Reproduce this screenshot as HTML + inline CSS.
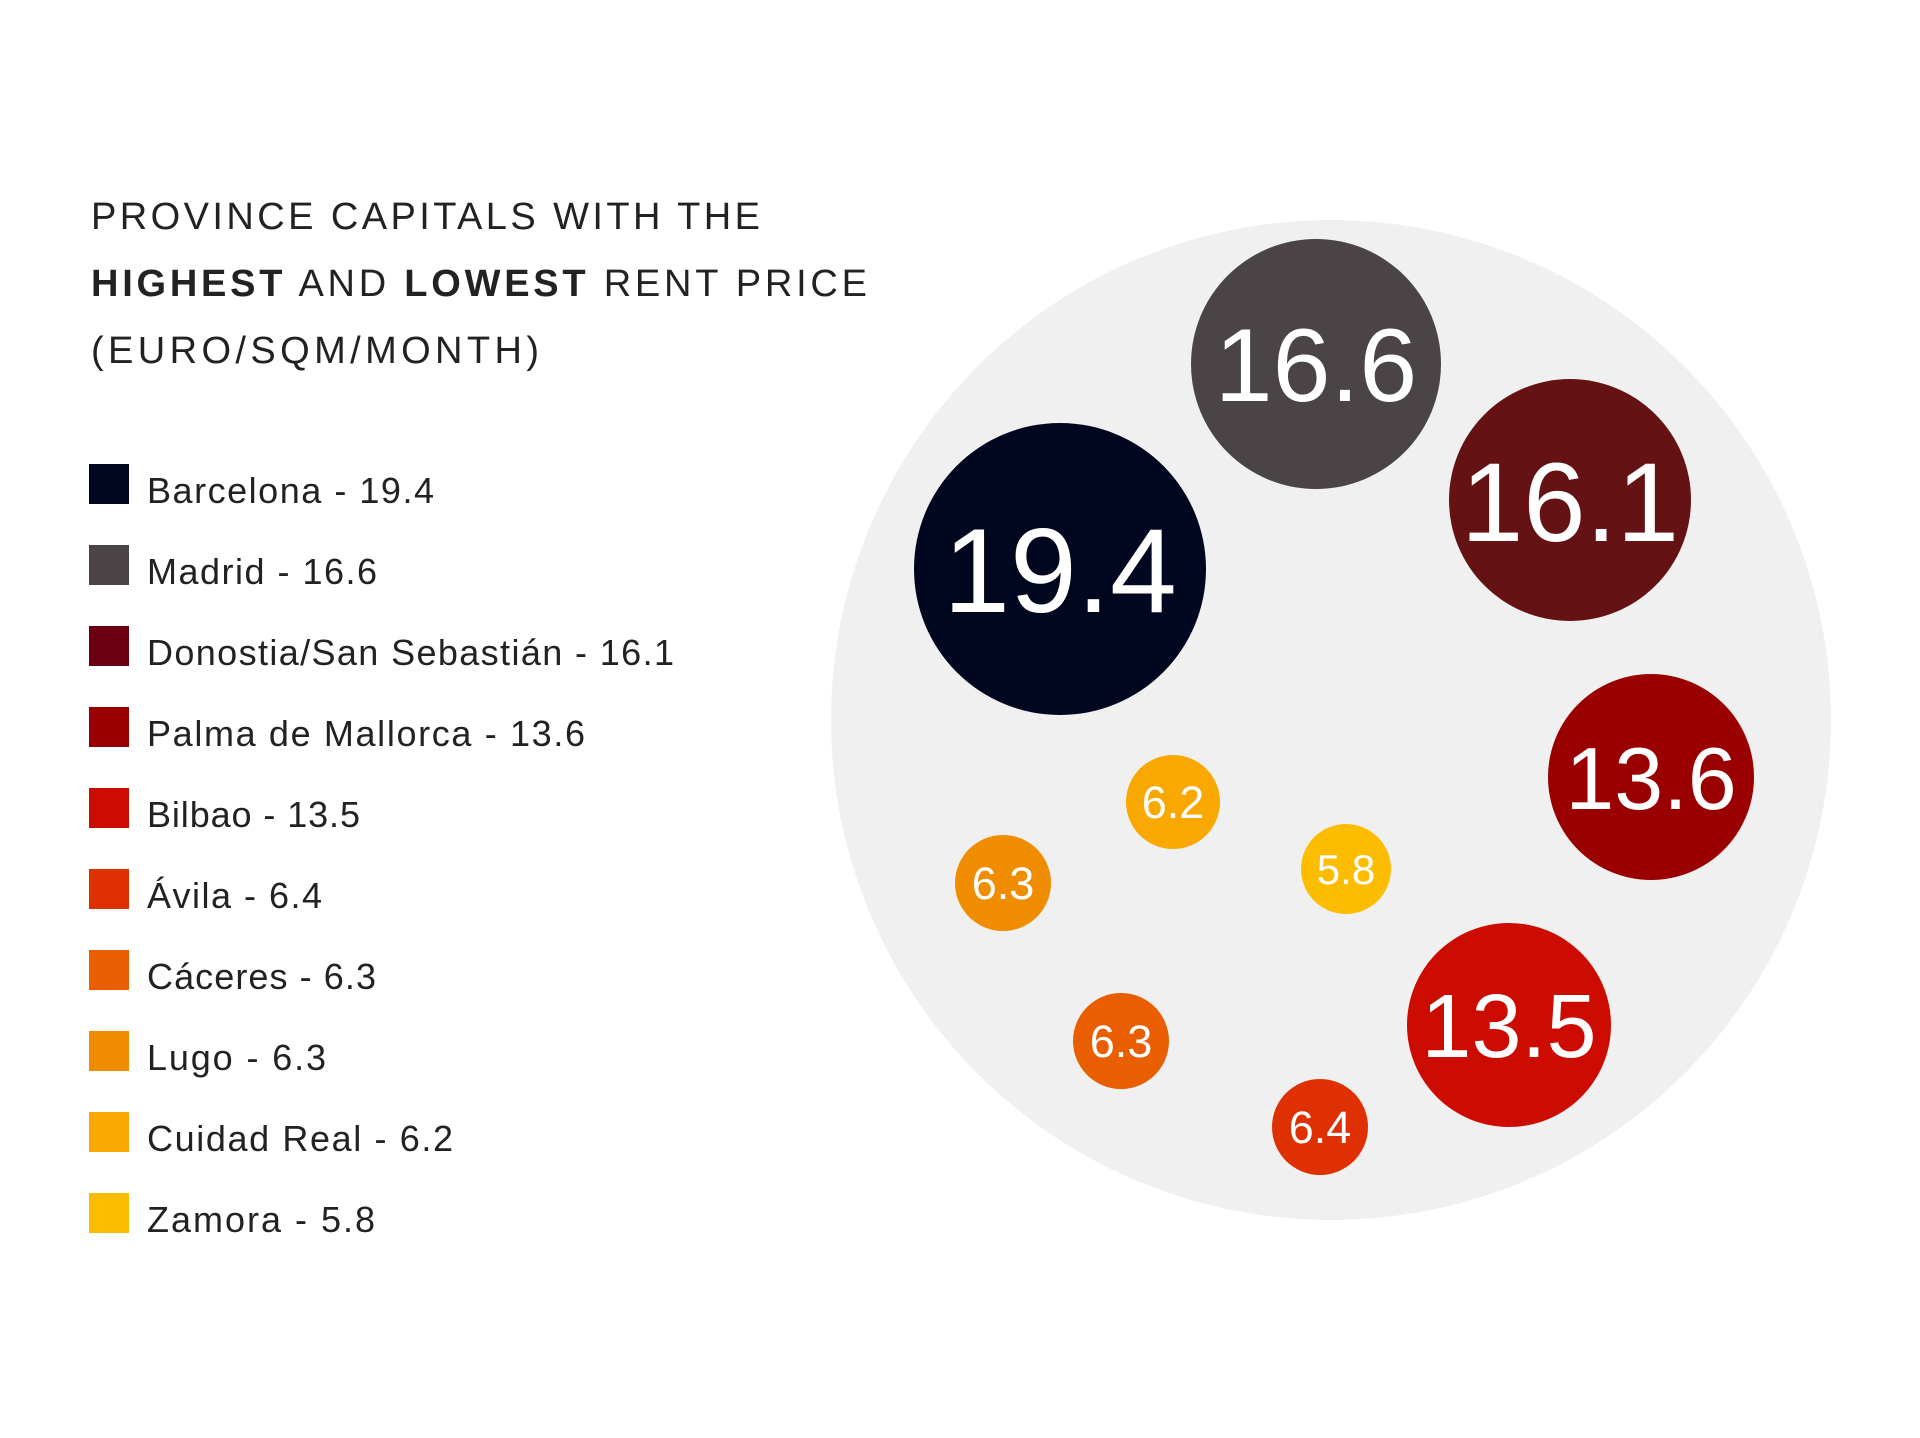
<!DOCTYPE html>
<html><head><meta charset="utf-8"><style>
html,body{margin:0;padding:0;background:#fff;}
svg{display:block;}
text{font-family:"Liberation Sans",sans-serif;}
</style></head><body>
<svg width="1920" height="1438" viewBox="0 0 1920 1438" xmlns="http://www.w3.org/2000/svg">
<rect width="1920" height="1438" fill="#fff"/>
<g fill="#222" font-size="38">
<text x="91" y="229" textLength="669" lengthAdjust="spacing">PROVINCE CAPITALS WITH THE</text>
<text x="91" y="296" textLength="776" lengthAdjust="spacing"><tspan font-weight="bold">HIGHEST</tspan> AND <tspan font-weight="bold">LOWEST</tspan> RENT PRICE</text>
<text x="91" y="363" textLength="448" lengthAdjust="spacing">(EURO/SQM/MONTH)</text>
</g>
<g font-size="36" fill="#222">
<rect x="89" y="464" width="40" height="40" fill="#00071f"/><text x="147" y="503" textLength="287" lengthAdjust="spacing">Barcelona - 19.4</text>
<rect x="89" y="545" width="40" height="40" fill="#4a4447"/><text x="147" y="584" textLength="230" lengthAdjust="spacing">Madrid - 16.6</text>
<rect x="89" y="626" width="40" height="40" fill="#6a0012"/><text x="147" y="665" textLength="527" lengthAdjust="spacing">Donostia/San Sebastián - 16.1</text>
<rect x="89" y="707" width="40" height="40" fill="#9a0000"/><text x="147" y="746" textLength="438" lengthAdjust="spacing">Palma de Mallorca - 13.6</text>
<rect x="89" y="788" width="40" height="40" fill="#cc0c00"/><text x="147" y="827" textLength="213" lengthAdjust="spacing">Bilbao - 13.5</text>
<rect x="89" y="869" width="40" height="40" fill="#de3000"/><text x="147" y="908" textLength="175" lengthAdjust="spacing">Ávila - 6.4</text>
<rect x="89" y="950" width="40" height="40" fill="#e85e00"/><text x="147" y="989" textLength="229" lengthAdjust="spacing">Cáceres - 6.3</text>
<rect x="89" y="1031" width="40" height="40" fill="#f08c00"/><text x="147" y="1070" textLength="179" lengthAdjust="spacing">Lugo - 6.3</text>
<rect x="89" y="1112" width="40" height="40" fill="#f8a800"/><text x="147" y="1151" textLength="306" lengthAdjust="spacing">Cuidad Real - 6.2</text>
<rect x="89" y="1193" width="40" height="40" fill="#fcbc00"/><text x="147" y="1232" textLength="228" lengthAdjust="spacing">Zamora - 5.8</text>
</g>
<circle cx="1331" cy="720" r="500" fill="#f0f0f0"/>
<g fill="#fff" text-anchor="middle">
<circle cx="1060" cy="569" r="146" fill="#00071f"/><text x="1060" y="612" font-size="120">19.4</text>
<circle cx="1316" cy="364" r="125" fill="#4a4447"/><text x="1316" y="401" font-size="104">16.6</text>
<circle cx="1570" cy="500" r="121" fill="#641214"/><text x="1570" y="541" font-size="112">16.1</text>
<circle cx="1651" cy="777" r="103" fill="#9a0000"/><text x="1651" y="809" font-size="88">13.6</text>
<circle cx="1509" cy="1025" r="102" fill="#cc0c00"/><text x="1509" y="1057" font-size="90">13.5</text>
<circle cx="1173" cy="802" r="47" fill="#f8a800"/><text x="1173" y="818" font-size="45">6.2</text>
<circle cx="1003" cy="883" r="48" fill="#f08c00"/><text x="1003" y="899" font-size="45">6.3</text>
<circle cx="1346" cy="869" r="45" fill="#fcbc00"/><text x="1346" y="884" font-size="42">5.8</text>
<circle cx="1121" cy="1041" r="48" fill="#e85e00"/><text x="1121" y="1057" font-size="45">6.3</text>
<circle cx="1320" cy="1127" r="48" fill="#de3000"/><text x="1320" y="1143" font-size="45">6.4</text>
</g>
</svg>
</body></html>
